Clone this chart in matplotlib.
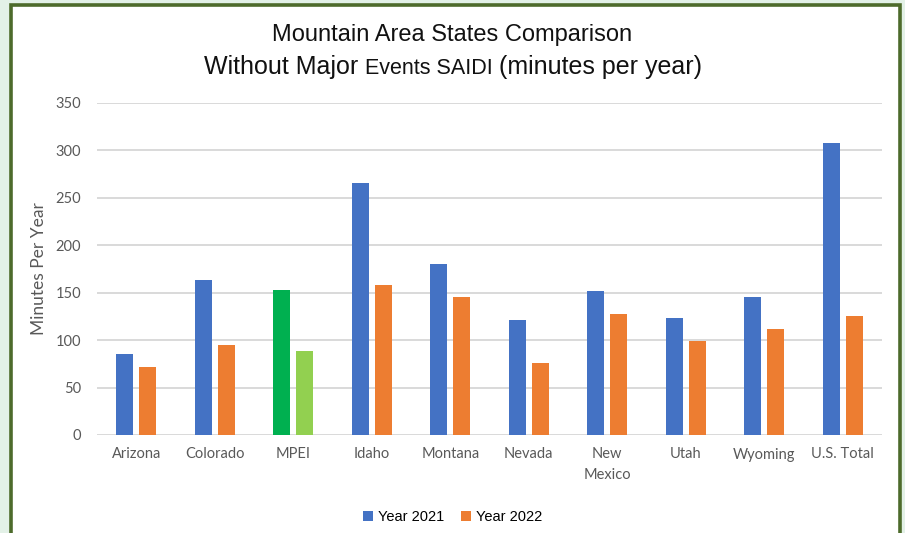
import matplotlib
matplotlib.use("Agg")
import matplotlib.pyplot as plt
from matplotlib.patches import Rectangle
import numpy as np

states = ["Arizona", "Colorado", "MPEI", "Idaho", "Montana", "Nevada",
          "New\nMexico", "Utah", "Wyoming", "U.S. Total"]
year_2021 = [85, 163, 153, 266, 180, 121, 152, 123, 146, 308]
year_2022 = [72, 95, 89, 158, 145, 76, 128, 99, 112, 125]

blue = "#4472c4"
orange = "#ed7d31"
# MPEI is highlighted in green
c21 = [blue] * len(states)
c22 = [orange] * len(states)
c21[2] = "#00b050"
c22[2] = "#92d050"

W, H = 905, 533
fig = plt.figure(figsize=(W / 100, H / 100), dpi=100)
fig.patch.set_facecolor("#e3f1e7")

# white card with green frame
fig.patches.append(Rectangle((10.5 / W, -0.05), (899.5 - 10.5) / W, 1.05 - 5.5 / H,
                             transform=fig.transFigure, facecolor="white",
                             edgecolor="#4d6b2b", linewidth=2.6, zorder=-5))

ax = fig.add_axes([97 / W, (H - 435) / H, (882 - 97) / W, (435 - 103) / H])
ax.set_facecolor("none")

x = np.arange(len(states))
bw = 0.22
off = 0.146
ax.bar(x - off, year_2021, bw, color=c21, label="Year 2021", zorder=3)
ax.bar(x + off, year_2022, bw, color=c22, label="Year 2022", zorder=3)

ax.set_xlim(-0.5, len(states) - 0.5)
ax.set_ylim(0, 350)
ax.set_yticks(range(0, 351, 50))
ax.grid(axis="y", color="#d9d9d9", linewidth=1.4, zorder=0)
for s in ax.spines.values():
    s.set_visible(False)
ax.tick_params(length=0, colors="#595959", labelsize=10.5)
ax.tick_params(axis="y", pad=11.5)
ax.tick_params(axis="x", pad=9)
ax.set_xticks(x)
ax.set_xticklabels(states, family="Lato", color="#595959", fontsize=10.5,
                   linespacing=1.55)
for t in ax.get_yticklabels():
    t.set_family("Lato")
ax.set_ylabel("Minutes Per Year", family="Lato", fontsize=12.5, color="#595959",
              labelpad=6)

fig.text(0.5, (H - 35) / H, "Mountain Area States Comparison", ha="center",
         va="center", family="Liberation Sans", fontsize=17, color="#111111")

# second title line with mixed sizes
parts = [("Without Major ", 18), ("Events SAIDI ", 15.5), ("(minutes per year)", 18)]
fig.canvas.draw()
r = fig.canvas.get_renderer()
texts = []
for s, fs in parts:
    t = fig.text(0, (H - 74) / H, s, ha="left", va="baseline",
                 family="Liberation Sans", fontsize=fs, color="#111111")
    texts.append(t)
widths = [t.get_window_extent(r).width for t in texts]
xpos = (W - sum(widths)) / 2
for t, w in zip(texts, widths):
    t.set_x(xpos / W)
    xpos += w

fig.legend(loc="center", bbox_to_anchor=(0.5, (H - 517) / H), ncol=2,
           frameon=False, handlelength=0.7, handleheight=0.7,
           handletextpad=0.3, columnspacing=1.2,
           prop={"family": "Liberation Sans", "size": 10.5})

fig.savefig("out.png", dpi=100, facecolor=fig.get_facecolor())
